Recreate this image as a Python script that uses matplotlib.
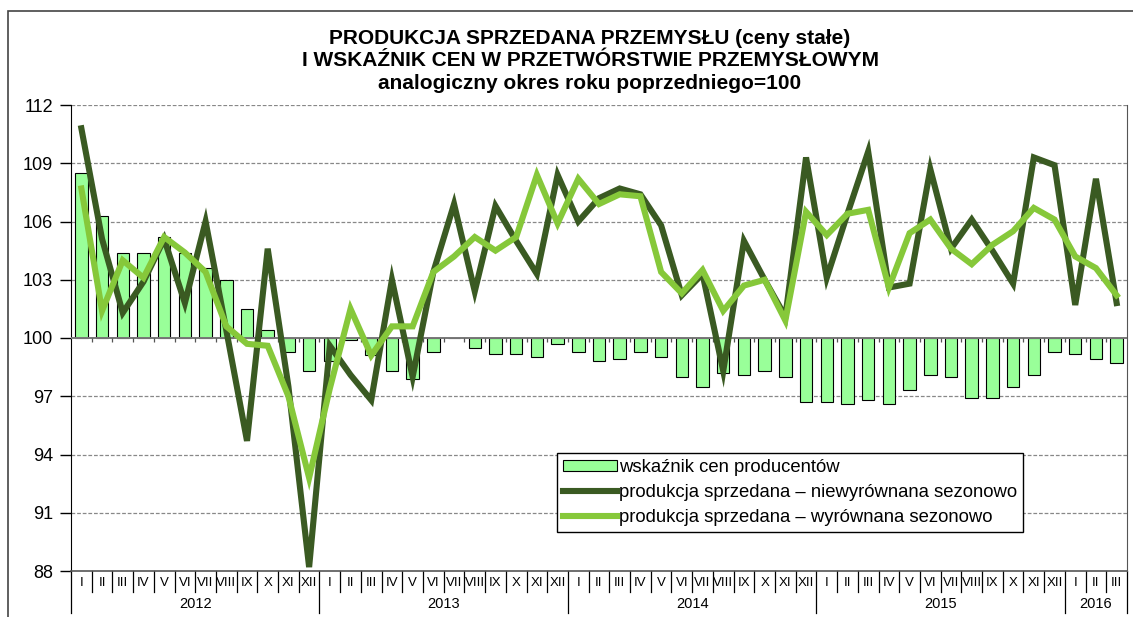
"""Produkcja sprzedana przemysłu i wskaźnik cen producentów, 2012-2016 (r/r = 100)."""
import numpy as np
import matplotlib
matplotlib.use("Agg")
import matplotlib.pyplot as plt
from matplotlib.lines import Line2D
from matplotlib.patches import Rectangle, Patch
import matplotlib.transforms as mtransforms

plt.rcParams["font.family"] = ["Liberation Sans", "DejaVu Sans"]

# ===========================
# DANE
# ===========================
MONTHS = ["I", "II", "III", "IV", "V", "VI", "VII", "VIII", "IX", "X", "XI", "XII"]
YEARS = ["2012", "2013", "2014", "2015", "2016"]
MONTHS_PER_YEAR = [12, 12, 12, 12, 3]

# wskaźnik cen producentów
ppi = [108.5, 106.3, 104.4, 104.4, 105.2, 104.4, 103.6, 103.0, 101.5, 100.4, 99.3, 98.3,
       98.8, 99.9, 99.1, 98.3, 97.9, 99.3, 100.0, 99.5, 99.2, 99.2, 99.0, 99.7,
       99.3, 98.8, 98.9, 99.3, 99.0, 98.0, 97.5, 98.2, 98.1, 98.3, 98.0, 96.7,
       96.7, 96.6, 96.8, 96.6, 97.3, 98.1, 98.0, 96.9, 96.9, 97.5, 98.1, 99.3,
       99.2, 98.9, 98.7]

# produkcja sprzedana – niewyrównana sezonowo
prod_raw = [110.8, 105.1, 101.3, 102.9, 105.1, 101.8, 106.0, 100.4, 94.7, 104.6, 97.5, 88.2,
            99.6, 98.1, 96.8, 103.0, 98.0, 103.4, 106.9, 102.4, 106.8, 105.0, 103.3, 108.4,
            106.0, 107.2, 107.7, 107.4, 105.8, 102.2, 103.3, 98.3, 105.0, 103.0, 101.1, 109.3,
            103.1, 106.4, 109.6, 102.6, 102.8, 108.7, 104.6, 106.1, 104.5, 102.8, 109.3, 108.9,
            101.7, 108.2, 101.8]

# produkcja sprzedana – wyrównana sezonowo
prod_sa = [107.7, 101.4, 104.0, 103.1, 105.2, 104.4, 103.4, 100.6, 99.7, 99.6, 97.0, 92.8,
           97.4, 101.5, 99.1, 100.6, 100.6, 103.4, 104.2, 105.2, 104.5, 105.2, 108.4, 105.9,
           108.2, 106.9, 107.4, 107.3, 103.4, 102.3, 103.5, 101.4, 102.7, 103.0, 100.9, 106.5,
           105.3, 106.4, 106.6, 102.6, 105.4, 106.1, 104.6, 103.8, 104.8, 105.5, 106.7, 106.1,
           104.2, 103.6, 102.2]

Y_TICKS = [88, 91, 94, 97, 100, 103, 106, 109, 112]
BASE = 100

TITLE = ("PRODUKCJA SPRZEDANA PRZEMYSŁU (ceny stałe)\n"
         "I WSKAŹNIK CEN W PRZETWÓRSTWIE PRZEMYSŁOWYM\n"
         "analogiczny okres roku poprzedniego=100")

BAR_COLOR = "#99FF99"
DARK = "#3A5A22"
LIGHT = "#86C83A"

# ===========================
# RYSOWANIE
# ===========================
W, H = 1133, 617
fig = plt.figure(figsize=(W / 100, H / 100), dpi=100)
ax = fig.add_axes([71 / W, 1 - 571 / H, 1056 / W, 466 / H])

x = np.arange(len(ppi))
ppi_arr = np.array(ppi)

ax.bar(x, ppi_arr - BASE, bottom=BASE, width=0.6, color=BAR_COLOR,
       edgecolor="black", linewidth=0.8, zorder=2)
ax.plot(x, prod_raw, color=DARK, lw=4.4, solid_joinstyle="miter", zorder=4)
ax.plot(x, prod_sa, color=LIGHT, lw=4.4, solid_joinstyle="miter", zorder=5)

ax.set_xlim(-0.5, len(ppi) - 0.5)
ax.set_ylim(Y_TICKS[0], Y_TICKS[-1])
ax.set_yticks(Y_TICKS)
ax.tick_params(axis="y", direction="out", length=8, width=1, pad=5, labelsize=13)
ax.set_xticks([])

for v in Y_TICKS[1:]:
    if v == BASE:
        continue
    ax.axhline(v, color="#888888", lw=0.9, ls=(0, (3, 1.5)), zorder=1)
ax.axhline(BASE, color="#777777", lw=1.4, zorder=3)
ax.vlines(x[:-1] + 0.5, BASE - 0.22, BASE, color="#555555", lw=0.9, zorder=3)

ax.spines["top"].set_visible(False)
ax.spines["right"].set_color("#555555")
ax.spines["left"].set_color("black")
ax.spines["bottom"].set_color("#555555")
ax.spines["bottom"].set_linewidth(1.2)

# etykiety miesięcy i lat pod osią
trans = mtransforms.blended_transform_factory(ax.transData, ax.transAxes)
idx = 0
for year, n in zip(YEARS, MONTHS_PER_YEAR):
    for m in range(n):
        ax.text(idx + m, -0.025, MONTHS[m], transform=trans, ha="center", va="center",
                fontsize=9.5, clip_on=False)
        if m < n - 1:
            ax.plot([idx + m + 0.5] * 2, [0, -0.045], transform=trans, color="black",
                    lw=0.9, clip_on=False)
    ax.text(idx + (n - 1) / 2, -0.071, year, transform=trans, ha="center", va="center",
            fontsize=10.5, clip_on=False)
    ax.plot([idx - 0.5] * 2, [0, -0.09], transform=trans, color="black", lw=0.9, clip_on=False)
    idx += n
ax.plot([idx - 0.5] * 2, [0, -0.09], transform=trans, color="black", lw=0.9, clip_on=False)

fig.text(590 / W, 1 - 61 / H, TITLE, ha="center", va="center", fontsize=15,
         fontweight="bold", linespacing=1.22, multialignment="center",
         family=["Liberation Sans Narrow", "Liberation Sans", "DejaVu Sans"])

# ramka całego wykresu
fig.add_artist(Rectangle((8 / W, -0.1), 1.2, 1.1 - 11 / H, transform=fig.transFigure,
                         fill=False, edgecolor="#444444", lw=1.2))

handles = [
    Patch(facecolor=BAR_COLOR, edgecolor="black", linewidth=0.8),
    Line2D([], [], color=DARK, lw=4.4),
    Line2D([], [], color=LIGHT, lw=4.4),
]
labels = ["wskaźnik cen producentów",
          "produkcja sprzedana – niewyrównana sezonowo",
          "produkcja sprzedana – wyrównana sezonowo"]
leg = fig.legend(handles, labels, loc="upper left",
                 bbox_to_anchor=(557 / W, 1 - 453 / H), borderaxespad=0,
                 fontsize=13.3, fancybox=False, framealpha=1, edgecolor="black",
                 handlelength=2.9, handletextpad=0.1, labelspacing=0.42,
                 borderpad=0.35, handleheight=0.55)
leg.get_frame().set_linewidth(1.0)
leg.set_zorder(10)

fig.savefig("out.png", dpi=100)
